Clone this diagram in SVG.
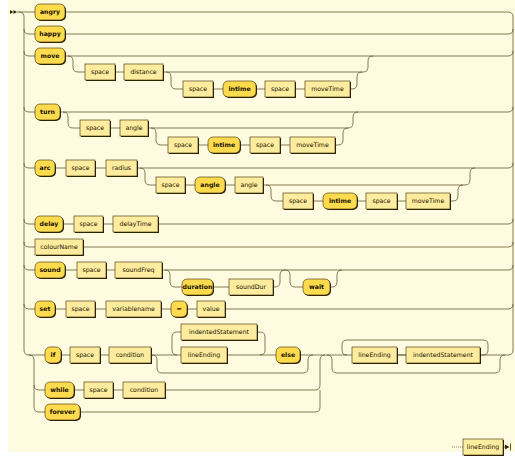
<svg xmlns="http://www.w3.org/2000/svg" width="515" height="456" viewBox="0 0 515 456">
<defs>
<style>
.ln{fill:none;stroke:#5c5028;stroke-width:0.75}
.dot{fill:none;stroke:#5c5028;stroke-width:0.75;stroke-dasharray:1 1}
.sh{fill:#2a2200}
.t{fill:#FFDB4D;stroke:#332900;stroke-width:0.6}
.n{fill:#FFEC9E;stroke:#332900;stroke-width:0.6}
text{font-family:"DejaVu Sans",Verdana,sans-serif;font-size:6.2px;fill:#141000;text-anchor:middle}
.tt{font-weight:bold}
.mk{fill:#332900}
</style>
</defs>
<rect x="0" y="0" width="515" height="456" fill="#ffffff"/>
<rect x="8" y="0" width="507" height="452" fill="#FFFBE0"/>
<g id="connectors">
<polygon class="mk" points="10,10 13.5,12 10,14"/>
<polygon class="mk" points="13.5,10 17,12 13.5,14"/>
<path class="ln" d="M17 12 H35"/>
<path class="ln" d="M19 12 q5 0 5 5 V350 q0 5 5 5"/>
<path class="ln" d="M24 29 q0 5 5 5 H35 M24 51 q0 5 5 5 H35 M24 107 q0 5 5 5 H35 M24 163 q0 5 5 5 H35 M24 219 q0 5 5 5 H35 M24 242 q0 5 5 5 H35 M24 265 q0 5 5 5 H35 M24 304 q0 5 5 5 H35"/>
<path class="ln" d="M29 355 H45 M29 355 q5 0 5 5 V407 q0 5 5 5 H45 M34 385 q0 5 5 5 H45"/>
<path class="ln" d="M513 17 V350"/>
<path class="ln" d="M65 12 H508 q5 0 5 5"/>
<path class="ln" d="M65 34 H508 q5 0 5 -5"/>
<path class="ln" d="M65 56 H508 q5 0 5 -5"/>
<path class="ln" d="M68 56 q5 0 5 5 v6 q0 5 5 5 H85 M115 72 H124 M163 72 H363 q5 0 5 -5 v-6 q0 -5 5 -5"/>
<path class="ln" d="M166 72 q5 0 5 5 v7 q0 5 5 5 H183 M213 89 H223 M256 89 H265 M295 89 H305 M350 89 H352 q5 0 5 -5 v-7 q0 -5 5 -5"/>
<path class="ln" d="M60 112 H508 q5 0 5 -5"/>
<path class="ln" d="M63 112 q5 0 5 5 v6 q0 5 5 5 H80 M110 128 H120 M148 128 H348 q5 0 5 -5 v-6 q0 -5 5 -5"/>
<path class="ln" d="M151 128 q5 0 5 5 v7 q0 5 5 5 H168 M198 145 H208 M240 145 H250 M280 145 H290 M335 145 H338 q5 0 5 -5 v-7 q0 -5 5 -5"/>
<path class="ln" d="M55 168 H66 M95 168 H106 M137 168 H508 q5 0 5 -5"/>
<path class="ln" d="M140 168 q5 0 5 5 v7 q0 5 5 5 H156 M185 185 H195 M225 185 H235 M263 185 H465 q5 0 5 -5 v-7 q0 -5 5 -5"/>
<path class="ln" d="M266 185 q5 0 5 5 v6 q0 5 5 5 H283 M313 201 H323 M357 201 H366 M397 201 H406 M450 201 H453 q5 0 5 -5 v-6 q0 -5 5 -5"/>
<path class="ln" d="M63 224 H74 M103 224 H113 M158 224 H508 q5 0 5 -5"/>
<path class="ln" d="M83 247 H508 q5 0 5 -5"/>
<path class="ln" d="M65 270 H77 M106 270 H115 M162 270 H508 q5 0 5 -5"/>
<path class="ln" d="M165 270 q5 0 5 5 v7 q0 5 5 5 H182 M213 287 H229 M273 287 H275 q5 0 5 -5 v-7 q0 -5 5 -5"/>
<path class="ln" d="M285 270 q5 0 5 5 v7 q0 5 5 5 H303 M330 287 H332 q5 0 5 -5 v-7 q0 -5 5 -5"/>
<path class="ln" d="M55 309 H66 M95 309 H106 M161 309 H171 M187 309 H197 M225 309 H508 q5 0 5 -5"/>
<path class="ln" d="M61 355 H70 M100 355 H109 M151 355 H181 M227 355 H276 M300 355 H508 q5 0 5 -5"/>
<path class="ln" d="M152 355 q5 0 5 5 v8 q0 5 5 5 H303 q5 0 5 -5 v-8 q0 -5 5 -5"/>
<path class="ln" d="M181 332 H177 q-5 0 -5 5 v13 q0 5 5 5 M257 332 H260 q5 0 5 5 v13 q0 5 -5 5"/>
<path class="ln" d="M74 390 H84 M113 390 H123 M165 390 H315 q5 0 5 -5 V360 q0 -5 5 -5"/>
<path class="ln" d="M80 412 H315 q5 0 5 -5 V390"/>
<path class="ln" d="M327 355 q5 0 5 5 v8 q0 5 5 5 H495 q5 0 5 -5 v-8 q0 -5 5 -5"/>
<path class="ln" d="M480 355 H483 q5 0 5 -5 v-5 q0 -5 -5 -5 H347 q-5 0 -5 5 v5 q0 5 5 5 M397 355 H406"/>
<path class="dot" d="M452 447 H463"/>
<path class="ln" d="M503 447 H507"/>
<polygon class="mk" points="505,444.5 509.5,447 505,449.5"/>
<path class="ln" d="M510.5 443.5 V450.5" style="stroke-width:1"/>
</g>
<g id="angry"><rect class="sh" x="36" y="5" width="30" height="16" rx="5"/><rect class="t" x="35" y="4" width="30" height="16" rx="5"/><text class="tt" x="50" y="14.3">angry</text></g>
<g id="happy"><rect class="sh" x="36" y="27" width="30" height="16" rx="5"/><rect class="t" x="35" y="26" width="30" height="16" rx="5"/><text class="tt" x="50" y="36.3">happy</text></g>
<g id="move"><rect class="sh" x="36" y="49" width="30" height="16" rx="5"/><rect class="t" x="35" y="48" width="30" height="16" rx="5"/><text class="tt" x="50" y="58.3">move</text></g>
<g id="move-space"><rect class="sh" x="86" y="65" width="30" height="16"/><rect class="n" x="85" y="64" width="30" height="16"/><text x="100" y="74.3">space</text></g>
<g id="move-distance"><rect class="sh" x="125" y="65" width="39" height="16"/><rect class="n" x="124" y="64" width="39" height="16"/><text x="143.5" y="74.3">distance</text></g>
<g id="move-space2"><rect class="sh" x="184" y="82" width="30" height="16"/><rect class="n" x="183" y="81" width="30" height="16"/><text x="198" y="91.3">space</text></g>
<g id="move-intime"><rect class="sh" x="224" y="82" width="33" height="16" rx="5"/><rect class="t" x="223" y="81" width="33" height="16" rx="5"/><text class="tt" x="239.5" y="91.3">intime</text></g>
<g id="move-space3"><rect class="sh" x="266" y="82" width="30" height="16"/><rect class="n" x="265" y="81" width="30" height="16"/><text x="280" y="91.3">space</text></g>
<g id="move-moveTime"><rect class="sh" x="306" y="82" width="45" height="16"/><rect class="n" x="305" y="81" width="45" height="16"/><text x="327.5" y="91.3">moveTime</text></g>
<g id="turn"><rect class="sh" x="36" y="105" width="25" height="16" rx="5"/><rect class="t" x="35" y="104" width="25" height="16" rx="5"/><text class="tt" x="47.5" y="114.3">turn</text></g>
<g id="turn-space"><rect class="sh" x="81" y="121" width="30" height="16"/><rect class="n" x="80" y="120" width="30" height="16"/><text x="95" y="130.3">space</text></g>
<g id="turn-angle"><rect class="sh" x="121" y="121" width="28" height="16"/><rect class="n" x="120" y="120" width="28" height="16"/><text x="134" y="130.3">angle</text></g>
<g id="turn-space2"><rect class="sh" x="169" y="138" width="30" height="16"/><rect class="n" x="168" y="137" width="30" height="16"/><text x="183" y="147.3">space</text></g>
<g id="turn-intime"><rect class="sh" x="209" y="138" width="32" height="16" rx="5"/><rect class="t" x="208" y="137" width="32" height="16" rx="5"/><text class="tt" x="224" y="147.3">intime</text></g>
<g id="turn-space3"><rect class="sh" x="251" y="138" width="30" height="16"/><rect class="n" x="250" y="137" width="30" height="16"/><text x="265" y="147.3">space</text></g>
<g id="turn-moveTime"><rect class="sh" x="291" y="138" width="45" height="16"/><rect class="n" x="290" y="137" width="45" height="16"/><text x="312.5" y="147.3">moveTime</text></g>
<g id="arc"><rect class="sh" x="36" y="161" width="20" height="16" rx="5"/><rect class="t" x="35" y="160" width="20" height="16" rx="5"/><text class="tt" x="45" y="170.3">arc</text></g>
<g id="arc-space"><rect class="sh" x="67" y="161" width="29" height="16"/><rect class="n" x="66" y="160" width="29" height="16"/><text x="80.5" y="170.3">space</text></g>
<g id="arc-radius"><rect class="sh" x="107" y="161" width="31" height="16"/><rect class="n" x="106" y="160" width="31" height="16"/><text x="121.5" y="170.3">radius</text></g>
<g id="arc-space2"><rect class="sh" x="157" y="178" width="29" height="16"/><rect class="n" x="156" y="177" width="29" height="16"/><text x="170.5" y="187.3">space</text></g>
<g id="arc-angle-kw"><rect class="sh" x="196" y="178" width="30" height="16" rx="5"/><rect class="t" x="195" y="177" width="30" height="16" rx="5"/><text class="tt" x="210" y="187.3">angle</text></g>
<g id="arc-angle"><rect class="sh" x="236" y="178" width="28" height="16"/><rect class="n" x="235" y="177" width="28" height="16"/><text x="249" y="187.3">angle</text></g>
<g id="arc-space3"><rect class="sh" x="284" y="194" width="30" height="16"/><rect class="n" x="283" y="193" width="30" height="16"/><text x="298" y="203.3">space</text></g>
<g id="arc-intime"><rect class="sh" x="324" y="194" width="34" height="16" rx="5"/><rect class="t" x="323" y="193" width="34" height="16" rx="5"/><text class="tt" x="340" y="203.3">intime</text></g>
<g id="arc-space4"><rect class="sh" x="367" y="194" width="31" height="16"/><rect class="n" x="366" y="193" width="31" height="16"/><text x="381.5" y="203.3">space</text></g>
<g id="arc-moveTime"><rect class="sh" x="407" y="194" width="44" height="16"/><rect class="n" x="406" y="193" width="44" height="16"/><text x="428" y="203.3">moveTime</text></g>
<g id="delay"><rect class="sh" x="36" y="217" width="28" height="16" rx="5"/><rect class="t" x="35" y="216" width="28" height="16" rx="5"/><text class="tt" x="49" y="226.3">delay</text></g>
<g id="delay-space"><rect class="sh" x="75" y="217" width="29" height="16"/><rect class="n" x="74" y="216" width="29" height="16"/><text x="88.5" y="226.3">space</text></g>
<g id="delay-delayTime"><rect class="sh" x="114" y="217" width="45" height="16"/><rect class="n" x="113" y="216" width="45" height="16"/><text x="135.5" y="226.3">delayTime</text></g>
<g id="colourName"><rect class="sh" x="36" y="240" width="48" height="16"/><rect class="n" x="35" y="239" width="48" height="16"/><text x="59" y="249.3">colourName</text></g>
<g id="sound"><rect class="sh" x="36" y="263" width="30" height="16" rx="5"/><rect class="t" x="35" y="262" width="30" height="16" rx="5"/><text class="tt" x="50" y="272.3">sound</text></g>
<g id="sound-space"><rect class="sh" x="78" y="263" width="29" height="16"/><rect class="n" x="77" y="262" width="29" height="16"/><text x="91.5" y="272.3">space</text></g>
<g id="sound-soundFreq"><rect class="sh" x="116" y="263" width="47" height="16"/><rect class="n" x="115" y="262" width="47" height="16"/><text x="138.5" y="272.3">soundFreq</text></g>
<g id="sound-duration"><rect class="sh" x="183" y="280" width="31" height="16" rx="5"/><rect class="t" x="182" y="279" width="31" height="16" rx="5"/><text class="tt" x="197.5" y="289.3">duration</text></g>
<g id="sound-soundDur"><rect class="sh" x="230" y="280" width="44" height="16"/><rect class="n" x="229" y="279" width="44" height="16"/><text x="251" y="289.3">soundDur</text></g>
<g id="sound-wait"><rect class="sh" x="304" y="280" width="27" height="16" rx="5"/><rect class="t" x="303" y="279" width="27" height="16" rx="5"/><text class="tt" x="316.5" y="289.3">wait</text></g>
<g id="set"><rect class="sh" x="36" y="302" width="20" height="16" rx="5"/><rect class="t" x="35" y="301" width="20" height="16" rx="5"/><text class="tt" x="45" y="311.3">set</text></g>
<g id="set-space"><rect class="sh" x="67" y="302" width="29" height="16"/><rect class="n" x="66" y="301" width="29" height="16"/><text x="80.5" y="311.3">space</text></g>
<g id="set-variablename"><rect class="sh" x="107" y="302" width="55" height="16"/><rect class="n" x="106" y="301" width="55" height="16"/><text x="133.5" y="311.3">variablename</text></g>
<g id="set-eq"><rect class="sh" x="172" y="302" width="16" height="16" rx="5"/><rect class="t" x="171" y="301" width="16" height="16" rx="5"/><text class="tt" x="179" y="311.3">=</text></g>
<g id="set-value"><rect class="sh" x="198" y="302" width="28" height="16"/><rect class="n" x="197" y="301" width="28" height="16"/><text x="211" y="311.3">value</text></g>
<g id="if"><rect class="sh" x="46" y="348" width="16" height="16" rx="5"/><rect class="t" x="45" y="347" width="16" height="16" rx="5"/><text class="tt" x="53" y="357.3">if</text></g>
<g id="if-space"><rect class="sh" x="71" y="348" width="30" height="16"/><rect class="n" x="70" y="347" width="30" height="16"/><text x="85" y="357.3">space</text></g>
<g id="if-condition"><rect class="sh" x="110" y="348" width="42" height="16"/><rect class="n" x="109" y="347" width="42" height="16"/><text x="130" y="357.3">condition</text></g>
<g id="if-indentedStatement"><rect class="sh" x="182" y="325" width="76" height="16"/><rect class="n" x="181" y="324" width="76" height="16"/><text x="219" y="334.3">indentedStatement</text></g>
<g id="if-lineEnding"><rect class="sh" x="182" y="348" width="46" height="16"/><rect class="n" x="181" y="347" width="46" height="16"/><text x="204" y="357.3">lineEnding</text></g>
<g id="else"><rect class="sh" x="277" y="348" width="24" height="16" rx="5"/><rect class="t" x="276" y="347" width="24" height="16" rx="5"/><text class="tt" x="288" y="357.3">else</text></g>
<g id="rep-lineEnding"><rect class="sh" x="353" y="348" width="45" height="16"/><rect class="n" x="352" y="347" width="45" height="16"/><text x="374.5" y="357.3">lineEnding</text></g>
<g id="rep-indentedStatement"><rect class="sh" x="407" y="348" width="74" height="16"/><rect class="n" x="406" y="347" width="74" height="16"/><text x="443" y="357.3">indentedStatement</text></g>
<g id="while"><rect class="sh" x="46" y="383" width="29" height="16" rx="5"/><rect class="t" x="45" y="382" width="29" height="16" rx="5"/><text class="tt" x="59.5" y="392.3">while</text></g>
<g id="while-space"><rect class="sh" x="85" y="383" width="29" height="16"/><rect class="n" x="84" y="382" width="29" height="16"/><text x="98.5" y="392.3">space</text></g>
<g id="while-condition"><rect class="sh" x="124" y="383" width="42" height="16"/><rect class="n" x="123" y="382" width="42" height="16"/><text x="144" y="392.3">condition</text></g>
<g id="forever"><rect class="sh" x="46" y="405" width="35" height="16" rx="5"/><rect class="t" x="45" y="404" width="35" height="16" rx="5"/><text class="tt" x="62.5" y="414.3">forever</text></g>
<g id="end-lineEnding"><rect class="sh" x="464" y="440" width="40" height="16"/><rect class="n" x="463" y="439" width="40" height="16"/><text x="483" y="449.3">lineEnding</text></g>
</svg>
